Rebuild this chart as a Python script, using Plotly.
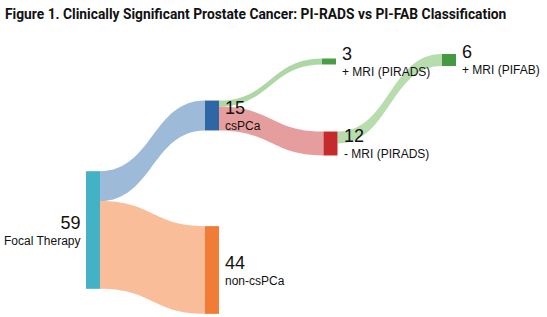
import plotly.graph_objects as go

W, H = 547, 317

# ---- data ----
node_names = ["Focal Therapy", "csPCa", "non-csPCa", "+ MRI (PIRADS)", "- MRI (PIRADS)", "+ MRI (PIFAB)"]
node_counts = [59, 15, 44, 3, 12, 6]
link_source = [0, 0, 1, 1, 4]
link_target = [1, 2, 3, 4, 5]
link_value = [15, 44, 3, 12, 6]

# ---- styles ----
node_colors = ["#42b2c4", "#2f66a6", "#f07c36", "#4a9d44", "#c52a2c", "#459a40"]
link_colors = ["rgba(140,175,210,0.85)", "rgba(248,182,142,0.9)",
               "rgba(160,208,150,0.85)", "rgba(226,140,140,0.85)", "rgba(170,214,160,0.85)"]
node_px_x = [93, 212, 212, 329, 330.5, 449]
node_px_y = [230, 115.5, 270, 61.5, 143.5, 60]
thickness = 14
label_left = [True, False, False, False, False, False]

fig = go.Figure(go.Sankey(
    arrangement="fixed",
    domain=dict(x=[0, 1], y=[0, 1]),
    node=dict(
        label=["" for _ in node_names],
        color=node_colors,
        x=[v / W for v in node_px_x],
        y=[v / H for v in node_px_y],
        pad=205,
        thickness=thickness,
        line=dict(width=0),
        hoverinfo="skip",
    ),
    link=dict(source=link_source, target=link_target, value=link_value,
              color=link_colors, hoverinfo="skip"),
))

for name, cnt, px, py, left in zip(node_names, node_counts, node_px_x, node_px_y, label_left):
    if left:
        xx = (px - thickness / 2 - 4) / W
        anchor = "right"
    else:
        xx = (px + thickness / 2 + 4) / W
        anchor = "left"
    fig.add_annotation(
        x=xx, y=1 - py / H, xref="paper", yref="paper",
        text=f"<span style='font-size:18px'>{cnt}</span><br>{name}",
        showarrow=False, xanchor=anchor, yanchor="middle", align=anchor,
        font=dict(family="Liberation Sans, Arial, sans-serif", size=12, color="#111"),
    )

fig.update_layout(
    width=W, height=H,
    margin=dict(l=0, r=0, t=0, b=0),
    paper_bgcolor="white",
    title=dict(
        text="<b>Figure 1. Clinically Significant Prostate Cancer: PI-RADS vs PI-FAB Classification</b>",
        x=5 / W, xanchor="left", xref="container",
        y=1 - 14.5 / H, yanchor="middle", yref="container",
        font=dict(family="Roboto, Arial, sans-serif", size=13.8, color="#111"),
    ),
)

fig.write_html("out.html")
